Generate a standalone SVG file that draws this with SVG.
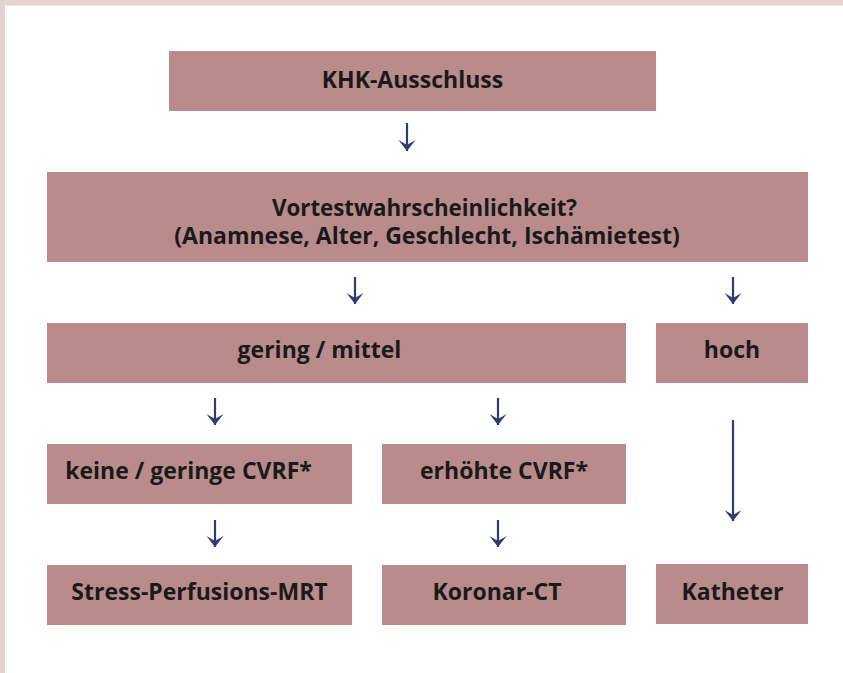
<svg xmlns="http://www.w3.org/2000/svg" width="843" height="673" viewBox="0 0 843 673">
<style>
.box{fill:#b98b8a}
.t{font-family:"Open Sans","Liberation Sans",sans-serif;font-weight:bold;font-size:23px;fill:#1a1a1a;text-anchor:middle}
.c line{stroke:#2f3b72;stroke-width:2.2}
</style>
<defs>
<marker id="ah" viewBox="-12 -9 13 18" refX="0" refY="0" markerWidth="13" markerHeight="18" markerUnits="userSpaceOnUse" orient="auto">
<path d="M-11,-8.5 L-6,0 L-11,8.5 L0,0 Z" fill="#2f3b72"/>
</marker>
</defs>
<rect x="0" y="0" width="843" height="673" fill="#ffffff"/>
<rect x="0" y="0" width="843" height="5.5" fill="#e6d3d1"/>
<rect x="0" y="0" width="5" height="673" fill="#e6d3d1"/>
<g id="n1"><rect class="box" x="169" y="51" width="487" height="60"/><text class="t" x="412.5" y="88">KHK-Ausschluss</text></g>
<g id="n2"><rect class="box" x="47" y="172" width="761" height="90"/><text class="t" x="424.5" y="216" textLength="305" lengthAdjust="spacingAndGlyphs">Vortestwahrscheinlichkeit?</text><text class="t" x="427" y="244">(Anamnese, Alter, Geschlecht, Ischämietest)</text></g>
<g id="n3"><rect class="box" x="47" y="323" width="579" height="60"/><text class="t" x="319.5" y="358">gering / mittel</text></g>
<g id="n4"><rect class="box" x="656" y="323" width="152" height="60"/><text class="t" x="732" y="358">hoch</text></g>
<g id="n5"><rect class="box" x="47" y="444" width="305" height="60"/><text class="t" x="188.5" y="479">keine / geringe CVRF*</text></g>
<g id="n6"><rect class="box" x="382" y="444" width="244" height="60"/><text class="t" x="504" y="479">erhöhte CVRF*</text></g>
<g id="n7"><rect class="box" x="47" y="565" width="305" height="60"/><text class="t" x="199.5" y="600">Stress-Perfusions-MRT</text></g>
<g id="n8"><rect class="box" x="382" y="565" width="244" height="60"/><text class="t" x="497" y="600">Koronar-CT</text></g>
<g id="n9"><rect class="box" x="656" y="564" width="152" height="60"/><text class="t" x="732.5" y="600">Katheter</text></g>
<g id="connectors" class="c">
<line x1="407" y1="123" x2="407" y2="151" marker-end="url(#ah)"/>
<line x1="355" y1="277" x2="355" y2="304" marker-end="url(#ah)"/>
<line x1="733" y1="277" x2="733" y2="304" marker-end="url(#ah)"/>
<line x1="215" y1="398" x2="215" y2="425" marker-end="url(#ah)"/>
<line x1="498" y1="398" x2="498" y2="425" marker-end="url(#ah)"/>
<line x1="215" y1="520" x2="215" y2="547" marker-end="url(#ah)"/>
<line x1="498" y1="520" x2="498" y2="547" marker-end="url(#ah)"/>
<line x1="733" y1="420" x2="733" y2="521" marker-end="url(#ah)"/>
</g>
</svg>
